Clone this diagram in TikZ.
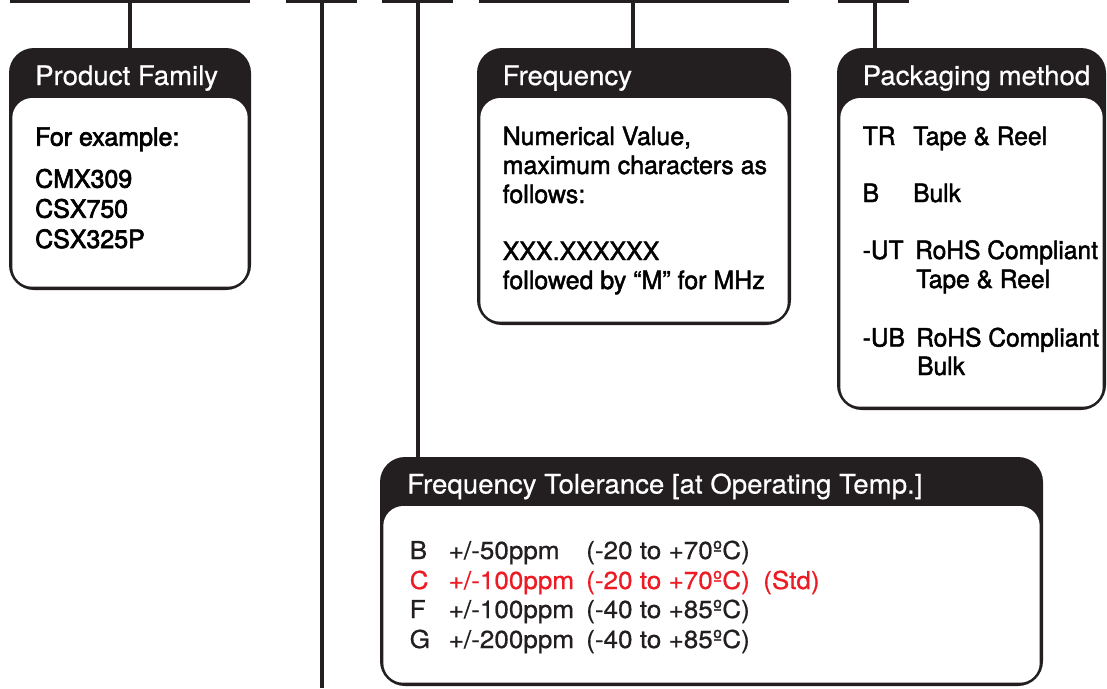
\documentclass[tikz,border=0pt]{standalone}
\usepackage{fontspec}
\setmainfont{TeX Gyre Heros}
\newfontfamily\hdfont[FakeStretch=1.03,FakeBold=0.6]{TeX Gyre Heros}
\newfontfamily\bdfont[FakeStretch=0.99,FakeBold=1.8]{TeX Gyre Heros}
\newfontfamily\pkfont[FakeStretch=0.975,FakeBold=1.8]{TeX Gyre Heros}
\newfontfamily\pffont[FakeStretch=0.99,FakeBold=2.6]{TeX Gyre Heros}
\newfontfamily\tlfont[FakeStretch=1.06,FakeBold=0.7]{TeX Gyre Heros}
\usetikzlibrary{fit}
\definecolor{ink}{HTML}{231F20}
\definecolor{redt}{HTML}{ED1C24}
\newcommand\tagbox[6]{%
  \fill[ink,rounded corners=25pt] (#2,#3) rectangle (#4,#5);
  \fill[white,rounded corners=20pt] ({#2+3.3},#6) rectangle ({#4-3.3},{#5-3.3});
  \node[fit={(#2,#3)(#4,#5)},inner sep=0pt] (#1) {};
}
\begin{document}
\begin{tikzpicture}[x=1pt,y=-1pt,
  bar/.style={ink,line width=3.5pt},
  stem/.style={ink,line width=4pt},
  hd/.style={anchor=base west,inner sep=0pt,text=white,font=\hdfont\fontsize{26.8}{30}\selectfont},
  bd/.style={anchor=base west,inner sep=0pt,text=black,font=\bdfont\fontsize{25.2}{29}\selectfont},
  pk/.style={anchor=base west,inner sep=0pt,text=black,font=\pkfont\fontsize{25.2}{29}\selectfont},
  pf/.style={anchor=base west,inner sep=0pt,text=black,font=\pffont\fontsize{25.2}{29}\selectfont},
  tl/.style={anchor=base west,inner sep=0pt,text=ink,font=\tlfont\fontsize{24.6}{29}\selectfont},
  hl/.style={text=redt}]
\useasboundingbox (0,0) rectangle (1107,688);

% top bars
\coordinate (b1a) at (10,1.5);  \coordinate (b1b) at (250,1.5);
\coordinate (b2a) at (286,1.5); \coordinate (b2b) at (357,1.5);
\coordinate (b3a) at (382,1.5); \coordinate (b3b) at (453,1.5);
\coordinate (b4a) at (479,1.5); \coordinate (b4b) at (789,1.5);
\coordinate (b5a) at (838,1.5); \coordinate (b5b) at (909,1.5);
\draw[bar] (b1a) -- (b1b);
\draw[bar] (b2a) -- (b2b);
\draw[bar] (b3a) -- (b3b);
\draw[bar] (b4a) -- (b4b);
\draw[bar] (b5a) -- (b5b);

% stem tops
\coordinate (s1) at (130,0);
\coordinate (s2) at (322,0);
\coordinate (s3) at (418,0);
\coordinate (s4) at (633,0);
\coordinate (s5) at (875,0);
\coordinate (e2) at (322,688);

% boxes
\tagbox{pfam}{9}{48}{251}{290}{98}
\tagbox{freq}{477}{48}{791}{325}{98}
\tagbox{pack}{837}{48}{1106}{410}{98}
\tagbox{tol}{380}{457}{1043}{686}{506}

% stems
\draw[stem] (s1) -- (s1 |- pfam.north);
\draw[stem] (s2) -- (e2);
\draw[stem] (s3) -- (s3 |- tol.north);
\draw[stem] (s4) -- (s4 |- freq.north);
\draw[stem] (s5) -- (s5 |- pack.north);

% Product Family
\node[hd] (pfh) at (35,85) {Product Family};
\node[pf] (pf1) at (35,145.7) {For example:};
\node[pf] (pf2) at (35,187.7) {CMX309};
\node[pf] (pf3) at (35,217.7) {CSX750};
\node[pf] (pf4) at (35,248) {CSX325P};

% Frequency
\node[hd] (frh) at (502.5,85) {Frequency};
\node[bd] (fr1) at (502.5,145) {Numerical Value,};
\node[bd] (fr2) at (502.5,174) {maximum characters as};
\node[bd] (fr3) at (502.5,203) {follows:};
\node[bd] (fr4) at (502.5,260) {XXX.XXXXXX};
\node[bd] (fr5) at (502.5,289) {followed by “M” for MHz};

% Packaging
\node[hd] (pkh) at (862.5,85) {Packaging method};
\node[pk] (pk1) at (862.5,145) {TR};
\node[pk] (pk1d) at (913,145) {Tape \& Reel};
\node[pk] (pk2) at (862.5,202) {B};
\node[pk] (pk2d) at (913,202) {Bulk};
\node[pk] (pk3) at (862.5,259) {-UT};
\node[pk] (pk3d) at (915,259) {RoHS Compliant};
\node[pk] (pk3e) at (916,288) {Tape \& Reel};
\node[pk] (pk4) at (862.5,346.5) {-UB};
\node[pk] (pk4d) at (916,346.5) {RoHS Compliant};
\node[pk] (pk4e) at (917,375) {Bulk};

% Tolerance
\node[hd] (tlh) at (407,493.5) {Frequency Tolerance [at Operating Temp.]};
\node[tl] (tb1) at (409.5,559) {B};
\node[tl] (tb2) at (448.5,559) {+/-50ppm};
\node[tl] (tb3) at (586,559) {(-20 to +70ºC)};
\node[tl,hl] (tc1) at (409.5,589) {C};
\node[tl,hl] (tc2) at (448.5,589) {+/-100ppm};
\node[tl,hl] (tc3) at (586,589) {(-20 to +70ºC)};
\node[tl,hl] (tc4) at (763,589) {(Std)};
\node[tl] (tf1) at (409.5,618) {F};
\node[tl] (tf2) at (448.5,618) {+/-100ppm};
\node[tl] (tf3) at (586,618) {(-40 to +85ºC)};
\node[tl] (tg1) at (409.5,648) {G};
\node[tl] (tg2) at (448.5,648) {+/-200ppm};
\node[tl] (tg3) at (586,648) {(-40 to +85ºC)};
\end{tikzpicture}
\end{document}
